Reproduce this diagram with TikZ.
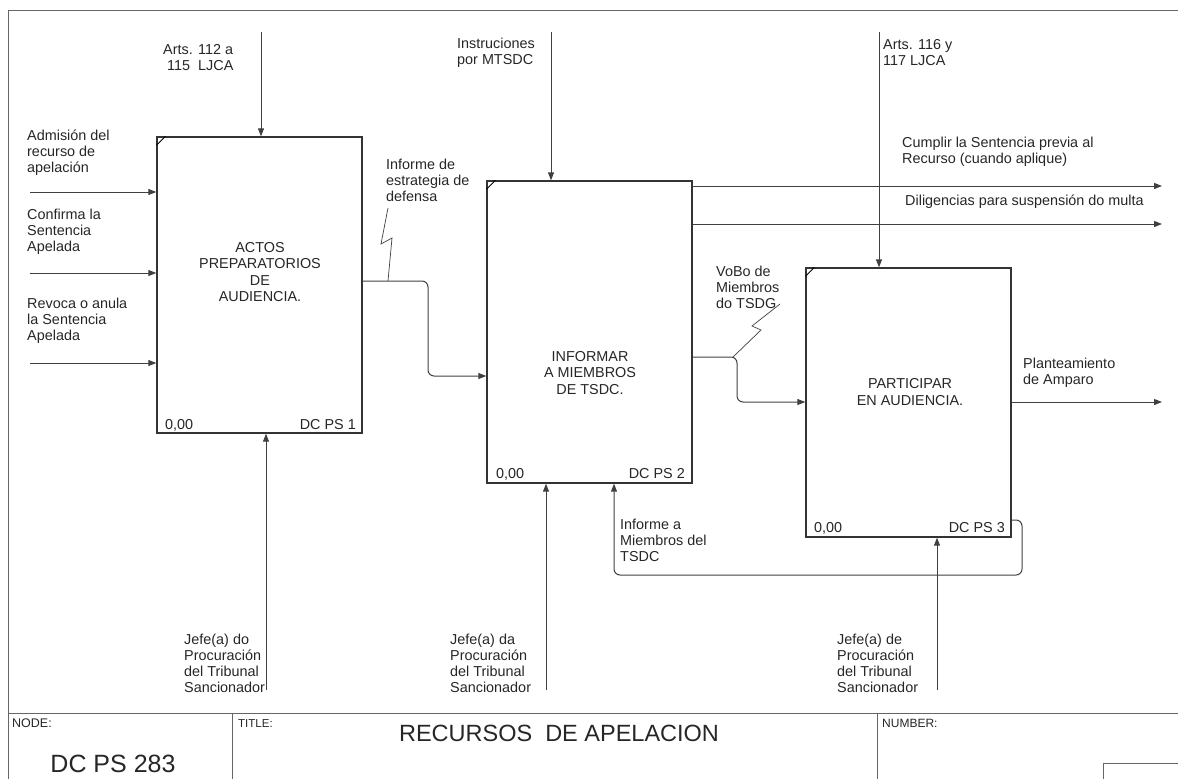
\documentclass[tikz,border=0pt]{standalone}
\usepackage{fontspec}
\setmainfont{Liberation Sans}
\usetikzlibrary{arrows.meta}
\tikzstyle{proc}=[draw=black!80,line width=1.3pt,minimum width=205pt,inner sep=0pt]
\tikzstyle{lbl}=[align=left,inner sep=0pt,anchor=north west,text=black!85,font=\fontsize{14.4}{16}\selectfont]
\tikzstyle{ptxt}=[align=center,inner sep=0pt,text=black!85,font=\fontsize{14.4}{16.5}\selectfont]
\tikzstyle{flow}=[-{Triangle[length=8pt,width=6pt]}, line width=1pt, draw=black!75]
\tikzstyle{frame}=[line width=0.8pt, draw=black!60]

\begin{document}
\begin{tikzpicture}[x=1pt,y=-1pt]
\useasboundingbox (0,0) rectangle (1178,779);
% frame and title block
\draw[frame](8,779)--(8,10)--(1178,10);
\draw[frame](8,713)--(1178,713);
\draw[frame](232,713)--(232,779);\draw[frame](877,713)--(877,779);
\draw[frame](1103,779)--(1103,763)--(1178,763);
\node[lbl,font=\fontsize{12.5}{14}\selectfont] (nd) at (12,719) {NODE:};
\node[inner sep=0pt,text=black!85,font=\fontsize{25}{28}\selectfont] (ndv) at (113,764) {DC PS 283};
\node[lbl,font=\fontsize{11.5}{14}\selectfont] (tt) at (238,719) {TITLE:};
\node[inner sep=0pt,text=black!85,font=\fontsize{23.5}{26}\selectfont] (ttv) at (559,733) {RECURSOS\ \ DE APELACION};
\node[lbl,font=\fontsize{12}{14}\selectfont] (nb) at (882,719) {NUMBER:};

% activity boxes
\node[proc,minimum height=296pt] (b1) at (259.5,285) {};
\node[proc,minimum height=302pt] (b2) at (589.5,332) {};
\node[proc,minimum height=269pt] (b3) at (908.5,402.5) {};
\draw[line width=0.8pt](b1.north west)++(0,9)--++(9,-9);
\draw[line width=0.8pt](b2.north west)++(0,9)--++(9,-9);
\draw[line width=0.8pt](b3.north west)++(0,9)--++(9,-9);
\node[ptxt] (t1) at (260,272) {ACTOS\\PREPARATORIOS\\DE\\AUDIENCIA.};
\node[ptxt] (t2) at (590,373) {INFORMAR\\A MIEMBROS\\DE TSDC.};
\node[ptxt] (t3) at (910,392) {PARTICIPAR\\EN AUDIENCIA.};
\node[lbl,anchor=base west] (n1) at (165,429) {0,00};
\node[lbl,anchor=base east] (d1) at (356,429) {DC PS 1};
\node[lbl,anchor=base west] (n2) at (496,478) {0,00};
\node[lbl,anchor=base east] (d2) at (685,478) {DC PS 2};
\node[lbl,anchor=base west] (n3) at (814,532) {0,00};
\node[lbl,anchor=base east] (d3) at (1005,532) {DC PS 3};

% controls
\coordinate (m1) at (261,32);\coordinate (m2) at (551,32);\coordinate (m3) at (879,32);
\draw[flow](m1)--(m1 |- b1.north);
\draw[flow](m2)--(m2 |- b2.north);
\draw[flow](m3)--(m3 |- b3.north);
\node[lbl] (lm1) at (163,44) {Arts. 112 a\\\ 115\ \ LJCA};
\node[lbl] (lm2) at (457,38) {Instruciones\\por MTSDC};
\node[lbl] (lm3) at (883,39) {Arts. 116 y\\117 LJCA};

% inputs
\coordinate (i1) at (30,192);\coordinate (i2) at (30,273);\coordinate (i3) at (30,363);
\draw[flow](i1)--(i1 -| b1.west);
\draw[flow](i2)--(i2 -| b1.west);
\draw[flow](i3)--(i3 -| b1.west);
\node[lbl] (li1) at (27,130) {Admisión del\\recurso de\\apelación};
\node[lbl] (li2) at (27,209) {Confirma la\\Sentencia\\Apelada};
\node[lbl] (li3) at (27,298) {Revoca o anula\\la Sentencia\\Apelada};

% links between boxes
\draw[flow,rounded corners=6pt](b1.east |- 0,281)--(428,281)--(428,376)--(b2.west |- 0,376);
\draw[line width=0.7pt,draw=black!75](388,208)--(381,244)--(392,238)--(388,281);
\node[lbl] (lk1) at (386,159) {Informe de\\estrategia de\\defensa};
\draw[flow,rounded corners=6pt](b2.east |- 0,357)--(737,357)--(737,402)--(b3.west |- 0,402);
\draw[line width=0.7pt,draw=black!75](780,304)--(752,326)--(761,330)--(733,357);
\node[lbl] (lk2) at (716,266) {VoBo de\\Miembros\\do TSDG};
\draw[flow,rounded corners=6pt](b3.east |- 0,520)--(1022,520)--(1022,575)--(614,575)--(b2.south -| 614,0);
\node[lbl] (lk3) at (620,519) {Informe a\\Miembros del\\TSDC};

% outputs
\coordinate (o1) at (1162,186);\coordinate (o2) at (1162,224);\coordinate (o3) at (1162,402);
\draw[flow](b2.east |- o1)--(o1);
\draw[flow](b2.east |- o2)--(o2);
\draw[flow](b3.east |- o3)--(o3);
\node[lbl] (lo1) at (902,137) {Cumplir la Sentencia previa al\\Recurso (cuando aplique)};
\node[lbl] (lo2) at (905,195) {Diligencias para suspensión do multa};
\node[lbl] (lo3) at (1023,358) {Planteamiento\\de Amparo};

% mechanisms
\coordinate (k1) at (266,690);\coordinate (k2) at (546,690);\coordinate (k3) at (937,690);
\draw[flow](k1)--(k1 |- b1.south);
\draw[flow](k2)--(k2 |- b2.south);
\draw[flow](k3)--(k3 |- b3.south);
\node[lbl] (lw1) at (184,634) {Jefe(a) do\\Procuración\\del Tribunal\\Sancionador};
\node[lbl] (lw2) at (450,634) {Jefe(a) da\\Procuración\\del Tribunal\\Sancionador};
\node[lbl] (lw3) at (837,634) {Jefe(a) de\\Procuración\\del Tribunal\\Sancionador};
\end{tikzpicture}
\end{document}
